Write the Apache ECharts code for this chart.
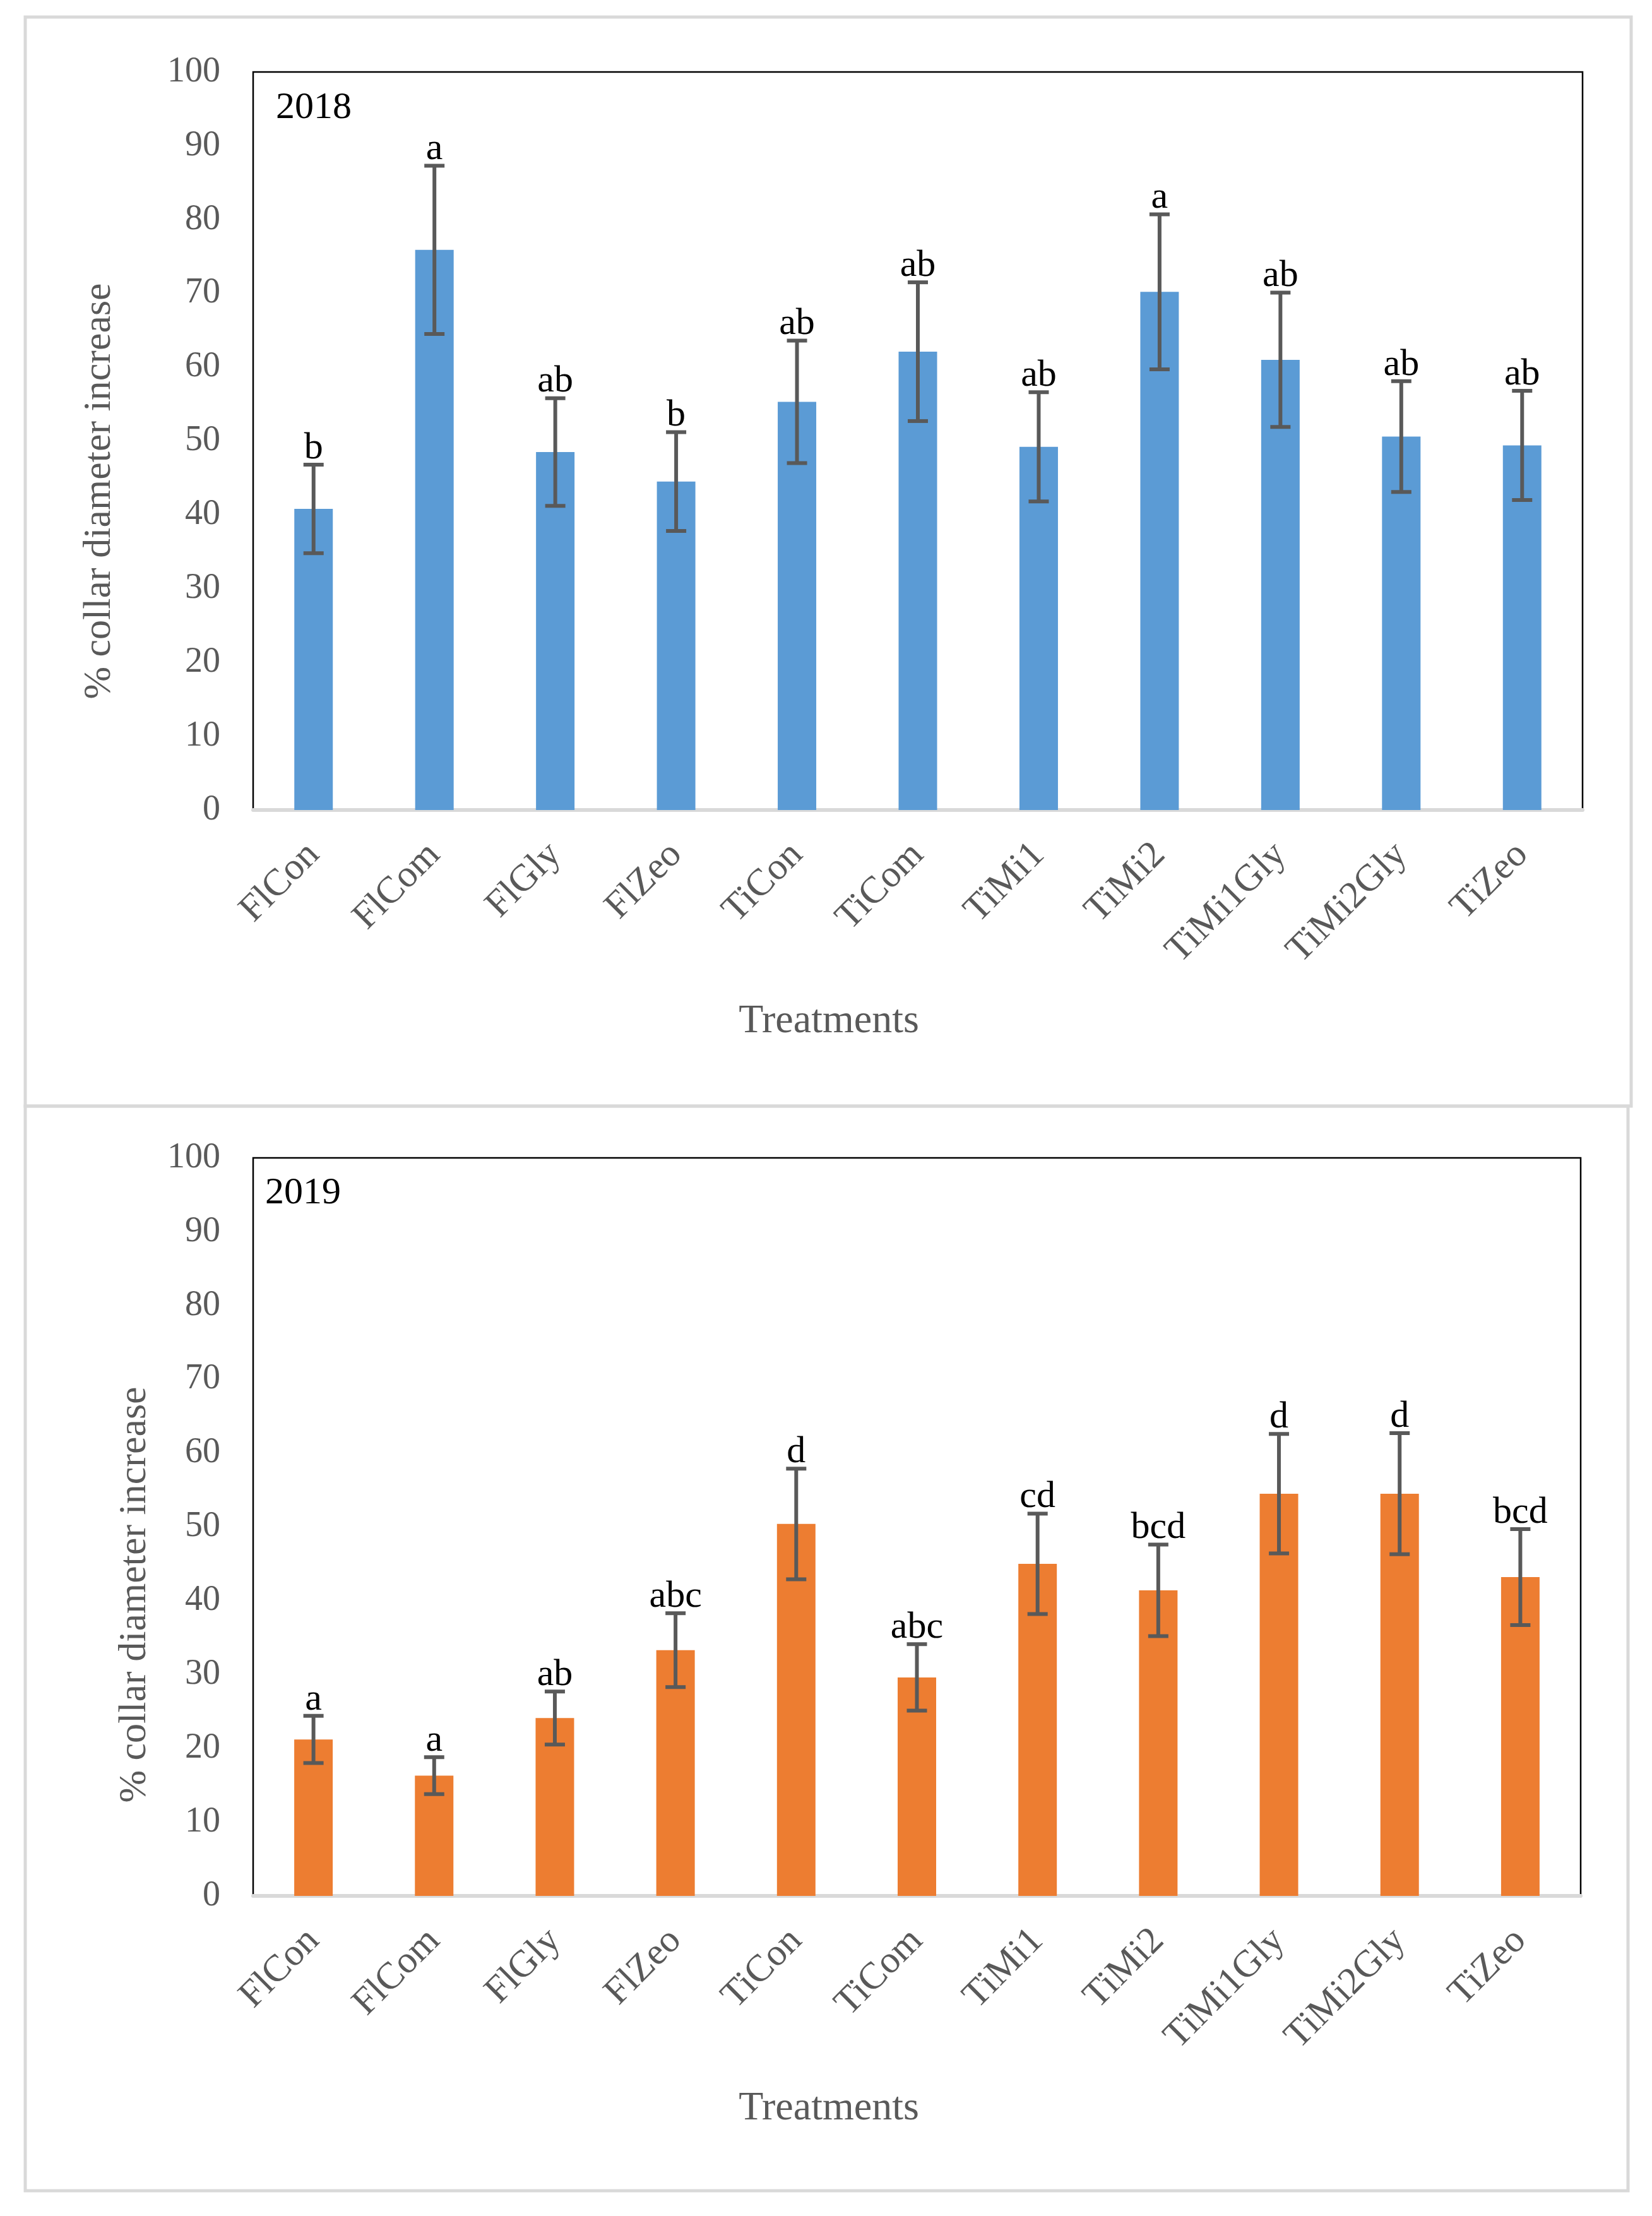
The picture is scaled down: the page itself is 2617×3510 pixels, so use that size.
<!DOCTYPE html>
<html>
<head>
<meta charset="utf-8">
<script src="https://cdn.jsdelivr.net/npm/echarts@6/dist/echarts.min.js"></script>
<style>
  html, body { margin: 0; padding: 0; background: #fff; }
  #mainChart { width: 2617px; height: 3510px; }
</style>
</head>
<body>
<div id="mainChart"></div>
<script>
// treatments on the x axis (same for both years)
var categories = ['FlCon', 'FlCom', 'FlGly', 'FlZeo', 'TiCon', 'TiCom', 'TiMi1', 'TiMi2', 'TiMi1Gly', 'TiMi2Gly', 'TiZeo'];
var yTicks = [0, 10, 20, 30, 40, 50, 60, 70, 80, 90, 100];

// 2018 - % collar diameter increase, error, significance letters
var means2018 = [40.8, 75.9, 48.5, 44.5, 55.3, 62.1, 49.2, 70.2, 61.0, 50.6, 49.4];
var err2018 = [6.0, 11.4, 7.3, 6.7, 8.3, 9.4, 7.4, 10.5, 9.1, 7.5, 7.4];
var letters2018 = ['b', 'a', 'ab', 'b', 'ab', 'ab', 'ab', 'a', 'ab', 'ab', 'ab'];

// 2019
var means2019 = [21.2, 16.3, 24.1, 33.3, 50.4, 29.6, 45.0, 41.4, 54.5, 54.5, 43.2];
var err2019 = [3.2, 2.5, 3.6, 5.0, 7.5, 4.5, 6.8, 6.2, 8.1, 8.2, 6.5];
var letters2019 = ['a', 'a', 'ab', 'abc', 'd', 'abc', 'cd', 'bcd', 'd', 'd', 'bcd'];

var FONT = 'Liberation Serif';
var GREY = '#595959';

var myChart = echarts.init(document.getElementById('mainChart'));

function errorSeries(idx, means, errs, letters) {
    var data = [];
    for (var i = 0; i < means.length; i++) {
        data.push([i, means[i] - errs[i], means[i] + errs[i]]);
    }
    return {
        type: 'custom',
        xAxisIndex: idx,
        yAxisIndex: idx,
        z: 10,
        data: data,
        renderItem: function (params, api) {
            var c = api.value(0);
            var lo = api.coord([c, api.value(1)]);
            var hi = api.coord([c, api.value(2)]);
            var half = 16;
            var st = {stroke: GREY, lineWidth: 6};
            return {
                type: 'group',
                children: [
                    {type: 'line', shape: {x1: lo[0], y1: lo[1], x2: hi[0], y2: hi[1]}, style: st},
                    {type: 'line', shape: {x1: hi[0] - half, y1: hi[1], x2: hi[0] + half, y2: hi[1]}, style: st},
                    {type: 'line', shape: {x1: lo[0] - half, y1: lo[1], x2: lo[0] + half, y2: lo[1]}, style: st},
                    {
                        type: 'text', x: hi[0], y: hi[1] + 4,
                        style: {
                            text: letters[params.dataIndex], fill: '#000',
                            font: '60px "' + FONT + '"', align: 'center', verticalAlign: 'bottom'
                        }
                    }
                ]
            };
        }
    };
}

function xAxisFor(idx) {
    return {
        gridIndex: idx,
        type: 'category',
        data: categories,
        axisTick: {show: false},
        axisLine: {lineStyle: {color: '#d9d9d9', width: 6}},
        axisLabel: {
            rotate: 45, margin: 62, color: GREY,
            fontFamily: FONT, fontSize: 60, interval: 0
        }
    };
}

function yAxisFor(idx) {
    return {
        gridIndex: idx,
        type: 'value',
        min: yTicks[0],
        max: yTicks[yTicks.length - 1],
        interval: 10,
        splitLine: {show: false},
        axisTick: {show: false},
        axisLine: {show: false},
        axisLabel: {margin: 52, color: GREY, fontFamily: FONT, fontSize: 56}
    };
}

myChart.setOption({
    animation: false,
    backgroundColor: '#fff',
    grid: [
        {left: 401, top: 114, width: 2106, height: 1169, show: true, borderColor: '#000', borderWidth: 2.5, backgroundColor: 'transparent'},
        {left: 401, top: 1834, width: 2103, height: 1169, show: true, borderColor: '#000', borderWidth: 2.5, backgroundColor: 'transparent'}
    ],
    xAxis: [xAxisFor(0), xAxisFor(1)],
    yAxis: [yAxisFor(0), yAxisFor(1)],
    graphic: [
        {type: 'rect', z: -10, shape: {x: 40, y: 27, width: 2544, height: 1725}, style: {fill: null, stroke: '#d9d9d9', lineWidth: 5}},
        {type: 'rect', z: -10, shape: {x: 40, y: 1752, width: 2539, height: 1718}, style: {fill: null, stroke: '#d9d9d9', lineWidth: 5}},
        {type: 'text', x: 437, y: 171, style: {text: '2018', fill: '#000', font: '60px "' + FONT + '"', verticalAlign: 'middle'}},
        {type: 'text', x: 420, y: 1890, style: {text: '2019', fill: '#000', font: '60px "' + FONT + '"', verticalAlign: 'middle'}},
        {type: 'text', x: 158, y: 778, rotation: Math.PI / 2, style: {text: '% collar diameter increase', fill: GREY, font: '62px "' + FONT + '"', align: 'center', verticalAlign: 'middle'}},
        {type: 'text', x: 214, y: 2526, rotation: Math.PI / 2, style: {text: '% collar diameter increase', fill: GREY, font: '62px "' + FONT + '"', align: 'center', verticalAlign: 'middle'}},
        {type: 'text', x: 1313, y: 1618, style: {text: 'Treatments', fill: GREY, font: '64px "' + FONT + '"', align: 'center', verticalAlign: 'middle'}},
        {type: 'text', x: 1313, y: 3340, style: {text: 'Treatments', fill: GREY, font: '64px "' + FONT + '"', align: 'center', verticalAlign: 'middle'}}
    ],
    series: [
        {name: '2018', type: 'bar', xAxisIndex: 0, yAxisIndex: 0, barWidth: 61, itemStyle: {color: '#5B9BD5'}, data: means2018},
        errorSeries(0, means2018, err2018, letters2018),
        {name: '2019', type: 'bar', xAxisIndex: 1, yAxisIndex: 1, barWidth: 61, itemStyle: {color: '#ED7D31'}, data: means2019},
        errorSeries(1, means2019, err2019, letters2019)
    ]
});
</script>
</body>
</html>
